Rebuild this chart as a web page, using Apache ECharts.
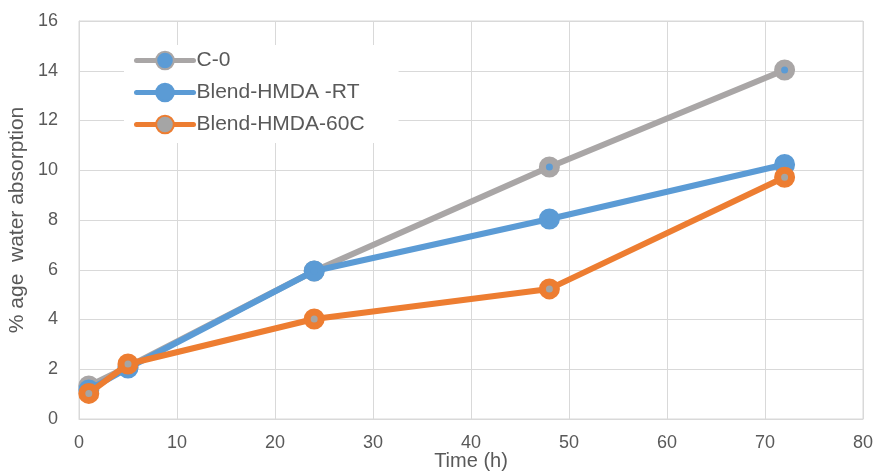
<!DOCTYPE html>
<html>
<head>
<meta charset="utf-8">
<script src="https://cdn.jsdelivr.net/npm/echarts@6/dist/echarts.min.js"></script>
<style>
  html, body { margin: 0; padding: 0; background: #fff; }
  #chart { width: 876px; height: 472px; }
</style>
</head>
<body>
<div id="chart"></div>
<script>
// Sampling times (h)
const timeHours = [1, 5, 24, 48, 72];

// Water absorption (%) per formulation
const c0Values = [1.33, 2.1, 5.95, 10.13, 14.03];
const rtValues = [1.17, 2.05, 5.95, 8.04, 10.23];
const c60Values = [1.03, 2.21, 4.02, 5.23, 9.72];

const seriesNames = ['C-0', 'Blend-HMDA -RT', 'Blend-HMDA-60C'];

const GRAY = '#A9A6A6';
const BLUE = '#5B9BD5';
const ORANGE = '#ED7D31';
const TEXT = '#595959';
const FONT = 'Liberation Sans, Arial, sans-serif';

function pairs(vals) {
  return timeHours.map((t, i) => [t, vals[i]]);
}

function lineSeries(name, vals, color, fill, z) {
  return {
    name: name,
    type: 'line',
    data: pairs(vals),
    z: z,
    symbol: 'circle',
    symbolSize: 14,
    showAllSymbol: true,
    lineStyle: { color: color, width: 6, cap: 'round', join: 'round' },
    itemStyle: { color: fill, borderColor: color, borderWidth: 7 },
    emphasis: { disabled: true },
    animation: false
  };
}

const chart = echarts.init(document.getElementById('chart'), null, { renderer: 'canvas' });

chart.setOption({
  backgroundColor: '#ffffff',
  animation: false,
  textStyle: { fontFamily: FONT },
  grid: {
    left: 79, right: 13, top: 21, bottom: 53,
    outerBoundsMode: 'none',
    containLabel: false,
    show: true, borderColor: '#D9D9D9', borderWidth: 1, backgroundColor: 'transparent'
  },
  legend: {
    show: true,
    left: 124,
    top: 45,
    orient: 'vertical',
    itemGap: 11,
    itemWidth: 57,
    itemHeight: 22,
    padding: [5, 34, 8, 10],
    backgroundColor: '#ffffff',
    lineStyle: { width: 5 },
    textStyle: { color: TEXT, fontSize: 21, fontFamily: FONT, padding: [0, 0, 0, -2] },
    data: seriesNames.map(n => ({ name: n }))
  },
  xAxis: {
    type: 'value',
    min: 0,
    max: 80,
    interval: 10,
    name: 'Time (h)',
    nameLocation: 'middle',
    nameGap: 32,
    nameMoveOverlap: false,
    nameTextStyle: { color: TEXT, fontSize: 20, fontFamily: FONT },
    axisLine: { show: true, lineStyle: { color: '#D9D9D9', width: 1 } },
    axisTick: { show: false },
    axisLabel: { color: TEXT, fontSize: 18, fontFamily: FONT, margin: 15 },
    splitLine: { show: true, lineStyle: { color: '#D9D9D9', width: 1 } }
  },
  yAxis: {
    type: 'value',
    min: 0,
    max: 16,
    interval: 2,
    name: '% age  water absorption',
    nameLocation: 'middle',
    nameGap: 51,
    nameMoveOverlap: false,
    nameTextStyle: { color: TEXT, fontSize: 21, fontFamily: FONT },
    axisLine: { show: true, lineStyle: { color: '#D9D9D9', width: 1 } },
    axisTick: { show: false },
    axisLabel: { color: TEXT, fontSize: 18, fontFamily: FONT, margin: 21 },
    splitLine: { show: true, lineStyle: { color: '#D9D9D9', width: 1 } }
  },
  series: [
    lineSeries(seriesNames[0], c0Values, GRAY, BLUE, 2),
    lineSeries(seriesNames[1], rtValues, BLUE, BLUE, 3),
    lineSeries(seriesNames[2], c60Values, ORANGE, '#A5A5A5', 4)
  ]
});
</script>
</body>
</html>
